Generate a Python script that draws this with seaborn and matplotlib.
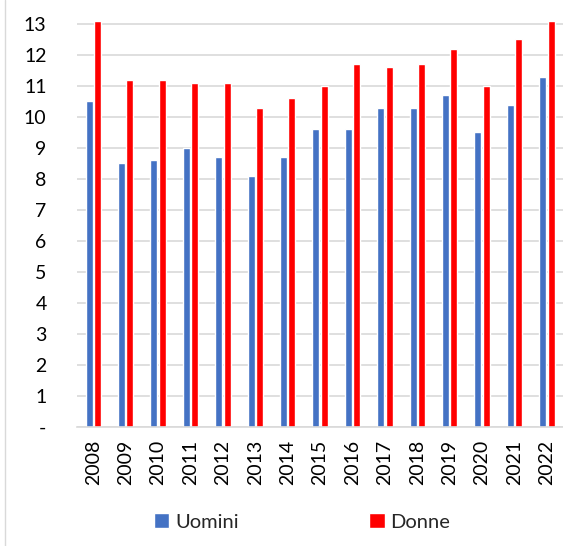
import pandas as pd
import seaborn as sns
import matplotlib.pyplot as plt
from matplotlib.lines import Line2D

anni = ['2008', '2009', '2010', '2011', '2012', '2013', '2014', '2015',
        '2016', '2017', '2018', '2019', '2020', '2021', '2022']
uomini = [10.5, 8.5, 8.6, 9.0, 8.7, 8.1, 8.7, 9.6, 9.6, 10.3, 10.3, 10.7, 9.5, 10.4, 11.3]
donne = [13.1, 11.2, 11.2, 11.1, 11.1, 10.3, 10.6, 11.0, 11.7, 11.6, 11.7, 12.2, 11.0, 12.5, 13.1]

df = pd.DataFrame({
    'anno': anni * 2,
    'valore': uomini + donne,
    'sesso': ['Uomini'] * len(anni) + ['Donne'] * len(anni),
})

sns.set_style('white')
plt.rcParams['font.family'] = ['Lato', 'DejaVu Sans']

fig = plt.figure(figsize=(5.63, 5.46), dpi=100)
ax = fig.add_axes([0.137, 0.218, 0.863, 0.741])

sns.barplot(data=df, x='anno', y='valore', hue='sesso',
            palette={'Uomini': '#4472C4', 'Donne': '#FF0000'},
            saturation=1, width=0.52, gap=0.17, ax=ax, legend=True)

ax.set_ylim(0, 13.05)
ax.set_xlim(-0.5, len(anni) - 0.5)
ax.set_yticks(range(0, 14))
ax.set_yticklabels(['-'] + [str(i) for i in range(1, 14)])
ax.yaxis.grid(True, color='#D9D9D9', linewidth=1.2)
ax.set_axisbelow(True)
for s in ['top', 'right', 'left']:
    ax.spines[s].set_visible(False)
ax.spines['bottom'].set_color('#D9D9D9')
ax.spines['bottom'].set_linewidth(1.2)
ax.tick_params(axis='both', length=0, labelsize=14, colors='#000000')
ax.tick_params(axis='y', pad=22)
ax.tick_params(axis='x', pad=9)
plt.setp(ax.get_xticklabels(), rotation=90)
ax.set_xlabel('')
ax.set_ylabel('')

ax.legend(loc='center', bbox_to_anchor=(0.463, -0.235), ncol=2, frameon=False,
          fontsize=14.5, handlelength=0.75, handleheight=0.75, handletextpad=0.3,
          columnspacing=6.5)

fig.add_artist(Line2D([0.009, 0.009], [0, 1], color='#D9D9D9', linewidth=1,
                      transform=fig.transFigure))

fig.savefig('out.png', dpi=100)
